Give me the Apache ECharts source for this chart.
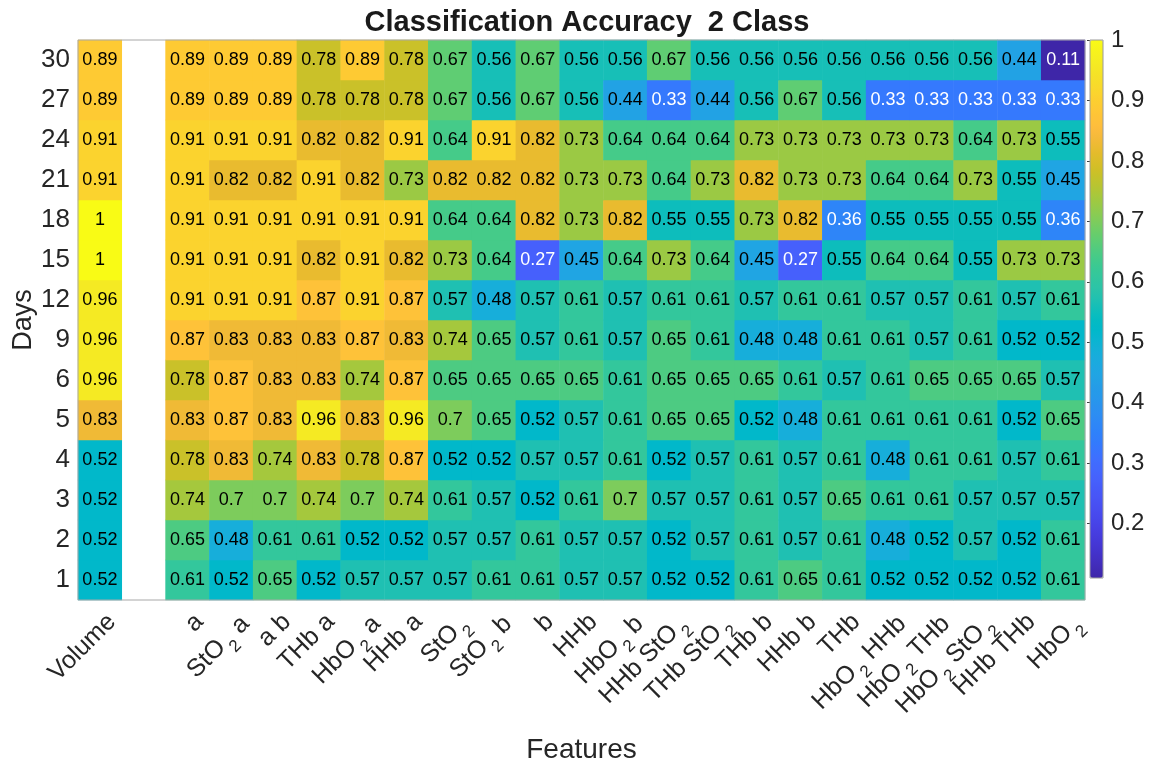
<!DOCTYPE html>
<html>
<head>
<meta charset="utf-8">
<title>Classification Accuracy 2 Class</title>
<script src="https://cdn.jsdelivr.net/npm/echarts@6/dist/echarts.min.js"></script>
<style>
  html, body { margin: 0; padding: 0; background: #ffffff; }
  #chart { width: 1159px; height: 764px; }
</style>
</head>
<body>
<div id="chart"></div>
<script>
// ---- data -------------------------------------------------------------
// Rows of the heat map, bottom to top
const days = ['1', '2', '3', '4', '5', '6', '9', '12', '15', '18', '21', '24', '27', '30'];

// Column labels ("_2" is drawn as a subscript); the second column is an empty spacer
const features = ['Volume', '', 'a', 'StO_2 a', 'a b', 'THb a', 'HbO_2 a', 'HHb a',
  'StO_2', 'StO_2 b', 'b', 'HHb', 'HbO_2 b', 'HHb StO_2', 'THb StO_2', 'THb b',
  'HHb b', 'THb', 'HbO_2 HHb', 'HbO_2 THb', 'HbO_2 StO_2', 'HHb THb', 'HbO_2'];

// Accuracy using volume only, per day (same order as days)
const volumeAcc = [0.52, 0.52, 0.52, 0.52, 0.83, 0.96, 0.96, 0.96, 1, 1, 0.91, 0.91, 0.89, 0.89];

// Accuracy of each feature set (columns 'a' ... 'HbO_2'), one array per day
const accDay1  = [0.61, 0.52, 0.65, 0.52, 0.57, 0.57, 0.57, 0.61, 0.61, 0.57, 0.57, 0.52, 0.52, 0.61, 0.65, 0.61, 0.52, 0.52, 0.52, 0.52, 0.61];
const accDay2  = [0.65, 0.48, 0.61, 0.61, 0.52, 0.52, 0.57, 0.57, 0.61, 0.57, 0.57, 0.52, 0.57, 0.61, 0.57, 0.61, 0.48, 0.52, 0.57, 0.52, 0.61];
const accDay3  = [0.74, 0.7, 0.7, 0.74, 0.7, 0.74, 0.61, 0.57, 0.52, 0.61, 0.7, 0.57, 0.57, 0.61, 0.57, 0.65, 0.61, 0.61, 0.57, 0.57, 0.57];
const accDay4  = [0.78, 0.83, 0.74, 0.83, 0.78, 0.87, 0.52, 0.52, 0.57, 0.57, 0.61, 0.52, 0.57, 0.61, 0.57, 0.61, 0.48, 0.61, 0.61, 0.57, 0.61];
const accDay5  = [0.83, 0.87, 0.83, 0.96, 0.83, 0.96, 0.7, 0.65, 0.52, 0.57, 0.61, 0.65, 0.65, 0.52, 0.48, 0.61, 0.61, 0.61, 0.61, 0.52, 0.65];
const accDay6  = [0.78, 0.87, 0.83, 0.83, 0.74, 0.87, 0.65, 0.65, 0.65, 0.65, 0.61, 0.65, 0.65, 0.65, 0.61, 0.57, 0.61, 0.65, 0.65, 0.65, 0.57];
const accDay9  = [0.87, 0.83, 0.83, 0.83, 0.87, 0.83, 0.74, 0.65, 0.57, 0.61, 0.57, 0.65, 0.61, 0.48, 0.48, 0.61, 0.61, 0.57, 0.61, 0.52, 0.52];
const accDay12 = [0.91, 0.91, 0.91, 0.87, 0.91, 0.87, 0.57, 0.48, 0.57, 0.61, 0.57, 0.61, 0.61, 0.57, 0.61, 0.61, 0.57, 0.57, 0.61, 0.57, 0.61];
const accDay15 = [0.91, 0.91, 0.91, 0.82, 0.91, 0.82, 0.73, 0.64, 0.27, 0.45, 0.64, 0.73, 0.64, 0.45, 0.27, 0.55, 0.64, 0.64, 0.55, 0.73, 0.73];
const accDay18 = [0.91, 0.91, 0.91, 0.91, 0.91, 0.91, 0.64, 0.64, 0.82, 0.73, 0.82, 0.55, 0.55, 0.73, 0.82, 0.36, 0.55, 0.55, 0.55, 0.55, 0.36];
const accDay21 = [0.91, 0.82, 0.82, 0.91, 0.82, 0.73, 0.82, 0.82, 0.82, 0.73, 0.73, 0.64, 0.73, 0.82, 0.73, 0.73, 0.64, 0.64, 0.73, 0.55, 0.45];
const accDay24 = [0.91, 0.91, 0.91, 0.82, 0.82, 0.91, 0.64, 0.91, 0.82, 0.73, 0.64, 0.64, 0.64, 0.73, 0.73, 0.73, 0.73, 0.73, 0.64, 0.73, 0.55];
const accDay27 = [0.89, 0.89, 0.89, 0.78, 0.78, 0.78, 0.67, 0.56, 0.67, 0.56, 0.44, 0.33, 0.44, 0.56, 0.67, 0.56, 0.33, 0.33, 0.33, 0.33, 0.33];
const accDay30 = [0.89, 0.89, 0.89, 0.78, 0.89, 0.78, 0.67, 0.56, 0.67, 0.56, 0.56, 0.67, 0.56, 0.56, 0.56, 0.56, 0.56, 0.56, 0.56, 0.44, 0.11];

// Colour scale limits and colorbar tick labels
const colorMin = 0.11;
const colorMax = 1;
const colorbarTicks = [0.2, 0.3, 0.4, 0.5, 0.6, 0.7, 0.8, 0.9, 1];

// ---- colormap (parula, 64 steps) ---------------------------------------
const PARULA = [
  [0.2422,0.1504,0.6603],[0.2504,0.1650,0.7076],[0.2578,0.1818,0.7511],[0.2647,0.1978,0.7952],
  [0.2706,0.2147,0.8364],[0.2751,0.2342,0.8710],[0.2783,0.2559,0.8991],[0.2803,0.2782,0.9221],
  [0.2813,0.3006,0.9414],[0.2810,0.3228,0.9579],[0.2795,0.3447,0.9717],[0.2760,0.3667,0.9829],
  [0.2699,0.3892,0.9906],[0.2602,0.4123,0.9952],[0.2440,0.4358,0.9988],[0.2206,0.4603,0.9973],
  [0.1963,0.4847,0.9892],[0.1834,0.5074,0.9798],[0.1786,0.5289,0.9682],[0.1764,0.5499,0.9520],
  [0.1687,0.5703,0.9359],[0.1540,0.5902,0.9218],[0.1460,0.6091,0.9079],[0.1380,0.6276,0.8973],
  [0.1248,0.6459,0.8883],[0.1113,0.6635,0.8763],[0.0952,0.6798,0.8598],[0.0689,0.6948,0.8394],
  [0.0297,0.7082,0.8163],[0.0036,0.7203,0.7917],[0.0067,0.7312,0.7660],[0.0433,0.7411,0.7394],
  [0.0964,0.7500,0.7120],[0.1408,0.7584,0.6842],[0.1717,0.7670,0.6554],[0.1938,0.7758,0.6251],
  [0.2161,0.7843,0.5923],[0.2470,0.7918,0.5567],[0.2906,0.7973,0.5188],[0.3406,0.8008,0.4789],
  [0.3909,0.8029,0.4354],[0.4456,0.8024,0.3909],[0.5044,0.7993,0.3480],[0.5616,0.7942,0.3045],
  [0.6174,0.7876,0.2612],[0.6720,0.7793,0.2227],[0.7242,0.7698,0.1910],[0.7738,0.7598,0.1646],
  [0.8203,0.7498,0.1535],[0.8634,0.7406,0.1596],[0.9035,0.7330,0.1774],[0.9393,0.7288,0.2100],
  [0.9728,0.7298,0.2394],[0.9956,0.7434,0.2371],[0.9970,0.7659,0.2199],[0.9952,0.7893,0.2028],
  [0.9892,0.8136,0.1885],[0.9786,0.8386,0.1766],[0.9676,0.8639,0.1643],[0.9610,0.8890,0.1537],
  [0.9597,0.9135,0.1423],[0.9628,0.9373,0.1265],[0.9691,0.9606,0.1064],[0.9769,0.9839,0.0805]
];
const parulaColors = PARULA.map(c => 'rgb(' + c.map(x => Math.round(x * 255)).join(',') + ')');

// ---- build heat-map cells ----------------------------------------------
const FONT = "'Liberation Sans', Arial, Helvetica, sans-serif";
const TEXT = '#262626';
const featureRows = [accDay1, accDay2, accDay3, accDay4, accDay5, accDay6, accDay9,
  accDay12, accDay15, accDay18, accDay21, accDay24, accDay27, accDay30];

function cell(x, y, v) {
  return { value: [x, y, v], label: { color: v < 0.4 ? '#ffffff' : '#000000' } };
}
const cells = [];
days.forEach((d, yi) => {
  cells.push(cell(0, yi, volumeAcc[yi]));
  featureRows[yi].forEach((v, j) => cells.push(cell(j + 2, yi, v)));
});

// ---- chart ---------------------------------------------------------------
const chart = echarts.init(document.getElementById('chart'), null, { renderer: 'canvas' });

const option = {
  animation: false,
  backgroundColor: '#ffffff',
  title: {
    text: 'Classification Accuracy  2 Class',
    left: 582,
    textAlign: 'center',
    top: 3,
    textStyle: { fontFamily: FONT, fontSize: 29, fontWeight: 'bold', color: '#1a1a1a' }
  },
  grid: [
    { left: 78, top: 40, width: 1007, height: 560, show: true, z: 10,
      outerBoundsMode: 'none', containLabel: false,
      borderColor: '#a8a8a8', borderWidth: 1, backgroundColor: 'transparent' },
    { left: 1090, top: 40, width: 13, height: 538, show: true, z: 10,
      outerBoundsMode: 'none', containLabel: false,
      borderColor: '#9a9a9a', borderWidth: 1, backgroundColor: 'transparent' }
  ],
  xAxis: [
    {
      type: 'category', gridIndex: 0, data: features,
      axisLine: { show: false }, axisTick: { show: false }, splitLine: { show: false },
      name: 'Features', nameLocation: 'middle', nameGap: 136, nameMoveOverlap: false,
      nameTextStyle: { fontFamily: FONT, fontSize: 28, color: TEXT },
      axisLabel: {
        interval: 0, rotate: 45, margin: 6,
        verticalAlign: 'top', lineHeight: 34,
        fontFamily: FONT, fontSize: 25, color: TEXT,
        formatter: name => name.replace(/_2/g, '{s|2}'),
        rich: {
          s: { fontFamily: FONT, fontSize: 17, color: TEXT, verticalAlign: 'bottom',
               lineHeight: 40, padding: [0, 0, 0, 3] }
        }
      }
    },
    { type: 'value', gridIndex: 1, show: false, min: 0, max: 1 }
  ],
  yAxis: [
    {
      type: 'category', gridIndex: 0, data: days,
      axisLine: { show: false }, axisTick: { show: false }, splitLine: { show: false },
      name: 'Days', nameLocation: 'middle', nameGap: 41, nameRotate: 90, nameMoveOverlap: false,
      nameTextStyle: { fontFamily: FONT, fontSize: 27, color: TEXT },
      axisLabel: { fontFamily: FONT, fontSize: 26, color: TEXT, margin: 8 }
    },
    {
      type: 'value', gridIndex: 1, position: 'right', min: colorMin, max: colorMax,
      axisLine: { show: false }, splitLine: { show: false },
      axisTick: { show: true, inside: true, length: 3, customValues: colorbarTicks,
                  lineStyle: { color: '#404040', width: 1 } },
      axisLabel: { customValues: colorbarTicks, fontFamily: FONT, fontSize: 24,
                   color: TEXT, margin: 8, formatter: v => String(v) }
    }
  ],
  visualMap: {
    type: 'continuous', seriesIndex: 0, min: colorMin, max: colorMax,
    calculable: false, hoverLink: false, orient: 'vertical',
    left: 1090, top: 40, itemWidth: 13, itemHeight: 538, padding: 0,
    text: null, z: 4,
    inRange: { color: parulaColors }
  },
  series: [{
    type: 'heatmap', xAxisIndex: 0, yAxisIndex: 0, data: cells,
    itemStyle: { borderWidth: 0 },
    emphasis: { disabled: true },
    label: {
      show: true, fontFamily: FONT, fontSize: 18,
      formatter: p => String(p.value[2])
    }
  }]
};

chart.setOption(option);
</script>
</body>
</html>
